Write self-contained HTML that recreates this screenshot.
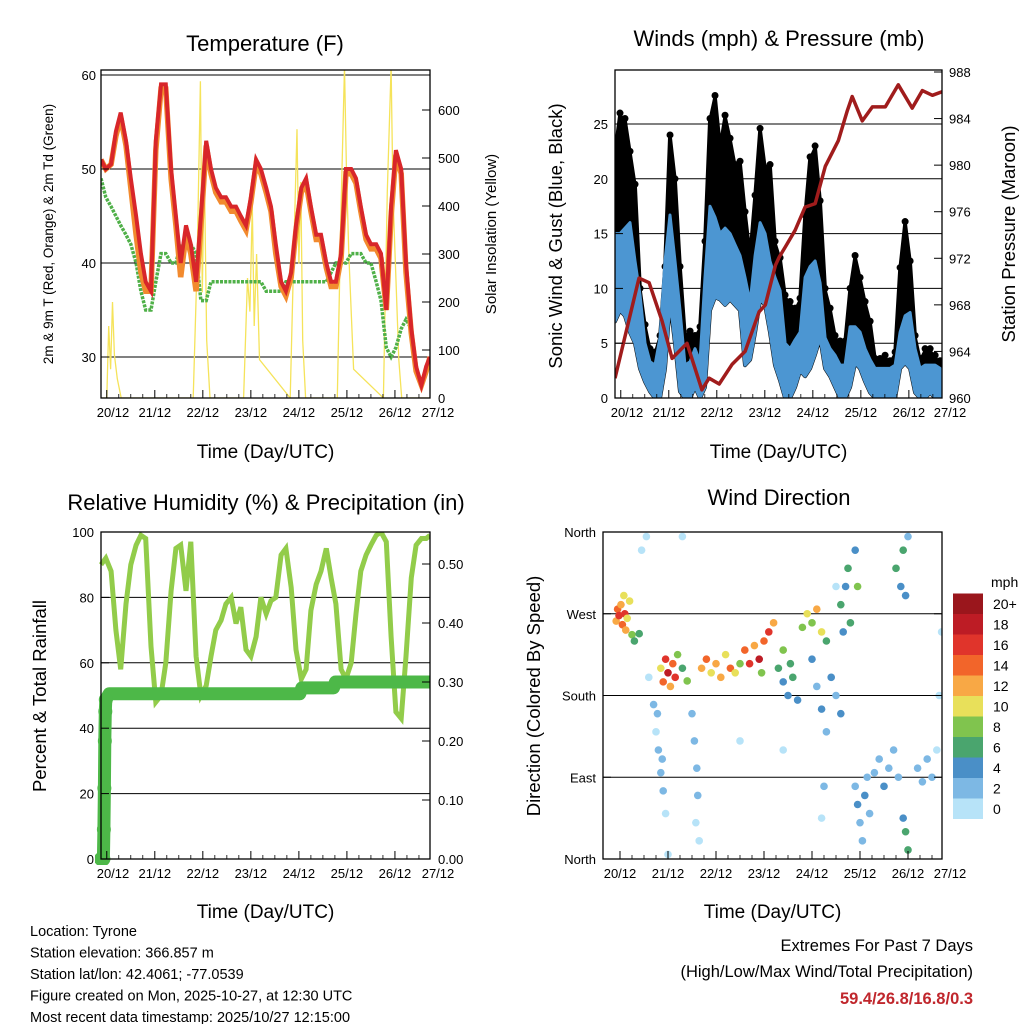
<!DOCTYPE html>
<html><head><meta charset="utf-8"><style>
body{margin:0;background:#fff;}
svg text{font-family:"Liberation Sans",sans-serif;fill:#000;}
</style></head><body>
<svg id="c" width="1024" height="1024" viewBox="0 0 1024 1024" xmlns="http://www.w3.org/2000/svg"></svg>
<script>
// ---------- data ----------
const tGrid1 = [19.88,19.98,20.09,20.19,20.29,20.40,20.50,20.61,20.71,20.81,20.92,21.02,21.13,21.23,21.34,21.44,21.54,21.65,21.75,21.86,21.96,22.07,22.17,22.27,22.38,22.48,22.59,22.69,22.79,22.90,23.00,23.11,23.21,23.32,23.42,23.52,23.63,23.73,23.84,23.94,24.05,24.15,24.25,24.36,24.46,24.57,24.67,24.77,24.88,24.98,25.09,25.19,25.29,25.40,25.50,25.61,25.71,25.82,25.92,26.02,26.13,26.23,26.34,26.44,26.55,26.65,26.73];
const temp2m = [51,50,50.5,54,56,53,49,45,41,38,37,53,59,59,50,45,40,44,42,38,45,53,50,48,47,47,46,46,45,44,47,51,50,48,46,42,38,37,39,44,48,49,46,43,43,40,38,38,41,50,50,49,46,43,42,42,41,35,46,52,50,40,33,29,27,29,30];
const temp9m = [51,50,50.5,53.5,55.5,52.5,48,43,39,37,37,52,58.5,58.5,49,44,38.5,43,41,37,44,52.5,49.5,47.5,46.5,46.5,45.5,45.5,44.5,43.5,46.5,50.5,49.5,47.5,45.5,41,37.5,36.5,38.5,43.5,47.5,48.5,45.5,42.5,42.5,39.5,37.5,37.5,40.5,49.5,49.5,48.5,45.5,42.5,41.5,41.5,40.5,35,45,51.5,49.5,39,32.5,28.5,27,28.5,30];
const dewpt = [49,47,46,45,44,43,42,40,37,35,35,38,41,41,40,40,42,42,42,41,36,36,38,38,38,38,38,38,38,38,38,38,38,37,37,37,37,38,38,38,38,38,38,38,38,38,39,40,40,40,41,41,41,40,40,38,36,31,30,31,33,34,33,29,27,29,30];
const solarT = [19.88,20.00,20.04,20.08,20.12,20.16,20.22,20.30,21.80,21.88,21.95,21.99,22.03,22.08,22.15,22.85,22.93,22.98,23.03,23.07,23.12,23.18,23.82,23.90,23.96,24.00,24.04,24.08,24.14,24.80,24.88,24.95,24.99,25.04,25.08,25.14,25.76,25.84,25.92,25.96,26.02,26.08,26.14,26.73];
const solarV = [0,0,150,60,200,90,40,0,0,280,660,220,480,120,0,0,250,180,400,150,300,80,0,330,560,280,450,120,0,0,400,690,480,300,200,60,0,430,690,420,250,80,0,0];
const tGrid2 = [19.880,19.984,20.088,20.193,20.297,20.401,20.505,20.609,20.713,20.818,20.922,21.026,21.130,21.234,21.338,21.443,21.547,21.651,21.755,21.859,21.963,22.068,22.172,22.276,22.380,22.484,22.588,22.693,22.797,22.901,23.005,23.109,23.213,23.318,23.422,23.526,23.630,23.734,23.838,23.943,24.047,24.151,24.255,24.359,24.463,24.568,24.672,24.776,24.880,24.984,25.088,25.193,25.297,25.401,25.505,25.609,25.713,25.818,25.922,26.026,26.130,26.234,26.338,26.443,26.547,26.651];
const gustHi = [22.5,26,25.5,22.5,19.5,10,6.7,4.5,4.2,5.7,12,24,20,12,5.7,6.1,5.7,6.5,14.3,25.5,27.6,23,25.8,23.7,21.3,21.6,17,13,18.5,24.6,21,21.3,14.3,12.8,9.4,8.8,8.2,9.1,16.7,22,23,18,10,8.2,5.7,5.2,5.2,10,13,11,8.8,7,3.6,3.6,3.9,3.4,4.2,11.9,16.1,12.5,5.7,3.6,4.5,4.5,3.9,3.4];
const windHi = [15,15,15.5,16,12.5,9.4,5,3.3,3,5.5,12.5,16.7,12.5,8,3,3.3,4.5,3.3,11,17.5,16.5,15,15.5,15,14,13,11,8.7,13,16,15,12.5,11,9.8,5,4.5,5.3,6,11,12,12.5,10.5,5.5,4.5,3.9,3,3,6.5,6.5,6,4.5,3.5,2.7,2.7,2.7,2.7,3,6,7.5,7.8,4.5,2.7,3,3,3,2.7];
const windLo = [7,8,7.5,6,5,2.7,1.5,0.6,0,0,2.7,8.8,5,0.6,0,0,1,0,1,8,9.2,9,8.5,9,8.5,8,3,3.5,6,9,8.5,6,3,1.6,0,0,1,2.5,2,2.7,4,5.5,2.7,2,1,0,0,1,3.2,2.7,1.5,0.5,0,0,0,0,0,2.7,3.2,2.7,0.5,0,0,0.5,0,0];
const presT = [19.88,20.38,20.59,20.86,21.07,21.38,21.69,21.84,22.05,22.32,22.59,22.88,23.01,23.22,23.30,23.43,23.63,23.84,24.05,24.26,24.53,24.72,24.82,25.03,25.24,25.51,25.78,26.07,26.28,26.49,26.69];
const pressure = [961.7,970.3,969.9,966.6,963.4,964.7,960.7,961.7,961.2,962.9,964.0,967.4,968.0,971.4,972.1,973.0,974.4,976.4,976.7,979.9,982.1,984.7,985.9,983.8,985.0,985.0,986.9,984.9,986.4,986.0,986.3];
const rh = [90,92,88,70,58,78,90,96,99,98,65,48,50,60,82,95,96,82,97,62,50,53,62,70,73,78,80,72,77,64,62,68,80,75,79,80,93,95,83,64,55,58,76,84,88,95,86,78,58,55,60,75,88,93,96,99,100,97,68,45,43,62,86,96,98,98,99];
const precipT = [19.88,19.93,19.94,19.95,19.96,19.97,19.98,20.05,24.02,24.06,24.72,24.76,26.73];
const precipV = [0,0,0.05,0.12,0.2,0.25,0.27,0.28,0.28,0.29,0.29,0.30,0.30];
const dirT = [19.92,19.95,19.98,20.02,20.05,20.08,20.1,20.12,20.15,20.2,20.25,20.3,20.4,20.85,20.9,20.95,21.0,21.05,21.1,21.15,21.2,21.3,21.4,20.7,20.75,20.8,20.85,20.9,20.95,20.78,20.88,20.6,20.55,21.3,21.5,21.55,21.6,21.62,21.58,21.65,21.7,21.8,21.9,22.0,22.1,22.2,22.3,22.4,22.5,22.6,22.7,22.8,22.9,23.0,23.1,23.2,22.95,23.3,23.4,23.5,23.6,23.7,23.4,23.55,23.8,23.9,24.0,24.1,24.2,24.3,24.0,24.1,24.2,24.3,24.4,24.5,24.6,24.2,24.25,24.6,24.7,24.75,24.8,24.9,24.95,24.65,24.9,24.95,25.0,25.05,25.1,25.15,25.2,25.3,25.4,25.5,25.6,25.7,25.8,25.75,25.85,25.9,25.95,26.0,25.95,26.0,25.9,26.2,26.3,26.4,26.5,26.6,26.65,26.7,20.45,21.0,22.5,23.4,24.5];
const dirV = [262,275,268,280,258,290,270,252,265,284,247,240,248,210,195,220,205,190,215,200,225,210,196,170,140,120,95,75,50,160,110,200,355,355,160,130,100,70,40,20,210,220,205,215,200,225,210,205,215,230,215,235,220,240,250,260,205,210,195,180,200,175,230,215,255,270,260,275,250,240,220,190,165,140,200,180,160,45,80,280,300,320,260,340,300,250,80,60,40,20,70,90,50,95,110,80,100,120,90,320,300,340,290,355,30,10,45,100,85,110,90,120,180,250,340,5,130,120,300];
const dirS = [12,14,16,12,14,10,16,12,10,11,8,6,6,10,14,16,18,12,14,17,8,6,8,2,1,2,3,2,1,3,2,1,1,1,2,3,2,3,1,1,12,14,10,13,12,10,14,11,9,14,16,12,18,14,16,12,8,6,4,5,7,4,8,6,9,10,8,12,10,7,4,3,5,3,4,2,4,1,2,6,5,7,6,4,8,5,3,4,3,2,4,3,2,3,2,4,3,2,3,6,4,7,5,2,6,7,5,2,3,2,3,1,1,1,1,1,1,1,1];
const speedColors = ["#b7e3f8","#7db8e4","#4a8fc7","#4aa56e","#80c44e","#e8e05a","#f8a845","#f2652a","#e0342b","#bd1c25","#9a161c"];
const speedLabels = ["0","2","4","6","8","10","12","14","16","18","20+"];
const dayTicks = [20,21,22,23,24,25,26,27];

// ---------- helpers ----------
const svg = document.getElementById('c');
const NS = 'http://www.w3.org/2000/svg';
function mk(tag, at, parent){ const e=document.createElementNS(NS,tag); for(const k in at) e.setAttribute(k,at[k]); (parent||svg).appendChild(e); return e; }
function txt(s, x, y, size, anchor, parent, extra){ const e=mk('text',Object.assign({x:x,y:y,'font-size':size,'text-anchor':anchor||'middle'},extra||{}),parent); e.textContent=s; return e; }
function lin(d0,d1,r0,r1){ return v => r0 + (v-d0)*(r1-r0)/(d1-d0); }
function pathFrom(xs, ys){ return xs.map((x,i)=>(i?'L':'M')+x.toFixed(1)+','+ys[i].toFixed(1)).join(''); }
function bandPath(xs, hi, lo){ return pathFrom(xs,hi)+pathFrom(xs.slice().reverse(),lo.slice().reverse()).replace('M','L')+'Z'; }

function frame(g, x0,y0,x1,y1){
  mk('rect',{x:x0,y:y0,width:x1-x0,height:y1-y0,fill:'none',stroke:'#000','stroke-width':1.3},g);
}
function timeAxis(g, xs, x0, x1, y1, labelY){
  dayTicks.forEach(d=>{
    const x = xs(d);
    if(x>=x0-1 && x<=x1+1){ mk('line',{x1:x,y1:y1,x2:x,y2:y1-8,stroke:'#000','stroke-width':1},g); }
    for(let h=1;h<4;h++){ const xm=xs(d+h/4); if(xm>x0&&xm<x1) mk('line',{x1:xm,y1:y1,x2:xm,y2:y1-4,stroke:'#000','stroke-width':0.8},g); }
    const lx = Math.min(Math.max(x, x0+12), x1+8);
    const t = txt((d<10?'0':'')+d+'/12', lx, y1+19, 13, 'middle', g);
    
    
  });
  const tt = txt('Time (Day/UTC)', (x0+x1)/2, labelY, 19, 'middle', g);
  
  
}

// ---------- Panel 1: Temperature ----------
(function(){
  const g = mk('g',{});  
  const x0=101,x1=430,y0=70,y1=398;
  const xs = lin(19.88,26.73,x0,x1);
  const ys = lin(30,60,357,75);
  const ysR = lin(0,600,398,110);
  [30,40,50,60].forEach(v=>mk('line',{x1:x0,x2:x1,y1:ys(v),y2:ys(v),stroke:'#000','stroke-width':1},g));
  const cp = mk('clipPath',{id:'cp1'},g); mk('rect',{x:x0,y:y0,width:x1-x0,height:y1-y0},cp);
  const d = mk('g',{'clip-path':'url(#cp1)'},g);
  const sol = mk('path',{d:pathFrom(solarT.map(xs),solarV.map(ysR)),fill:'none',stroke:'#f5e35a','stroke-width':1.3},d);
   
  const dp = mk('path',{d:pathFrom(tGrid1.map(xs),dewpt.map(ys)),fill:'none',stroke:'#4fb048','stroke-width':3.5,'stroke-dasharray':'3 1.2'},d);
   
  const t9 = mk('path',{d:pathFrom(tGrid1.map(xs),temp9m.map(ys)),fill:'none',stroke:'#f28a2e','stroke-width':5.5},d);
   
  const t2 = mk('path',{d:pathFrom(tGrid1.map(xs),temp2m.map(ys)),fill:'none',stroke:'#d8262a','stroke-width':4},d);
   
  frame(g,x0,y0,x1,y1);
  [30,40,50,60].forEach(v=>{ mk('line',{x1:x0,x2:x0+8,y1:ys(v),y2:ys(v),stroke:'#000'},g); txt(String(v),x0-5,ys(v)+5,13,'end',g); });
  [0,100,200,300,400,500,600].forEach(v=>{ mk('line',{x1:x1,x2:x1-8,y1:ysR(v),y2:ysR(v),stroke:'#000'},g); txt(String(v),x1+8,ysR(v)+5,13,'start',g); });
  timeAxis(g,xs,x0,x1,y1,458);
  const ti=txt('Temperature (F)',265,51,22,'middle',g);  
  const yl=txt('2m & 9m T (Red, Orange) & 2m Td (Green)',0,0,13.5,'middle',g,{transform:'translate(53,234) rotate(-90)'});  
  const yr=txt('Solar Insolation (Yellow)',0,0,15,'middle',g,{transform:'translate(496,234) rotate(-90)'});  
})();

// ---------- Panel 2: Winds ----------
(function(){
  const g = mk('g',{});  
  const x0=615,x1=942,y0=70,y1=398;
  const xs = lin(19.88,26.69,x0,x1);
  const ys = lin(0,25,398,124);
  const ysR = lin(960,988,398,72);
  [5,10,15,20,25].forEach(v=>mk('line',{x1:x0,x2:x1,y1:ys(v),y2:ys(v),stroke:'#000','stroke-width':1},g));
  const cp = mk('clipPath',{id:'cp2'},g); mk('rect',{x:x0,y:y0,width:x1-x0,height:y1-y0},cp);
  const d = mk('g',{'clip-path':'url(#cp2)'},g);
  const X = tGrid2.map(xs);
  const gp = mk('path',{d:bandPath(X,gustHi.map(v=>ys(v)+3),windLo.map(ys)),fill:'#000',stroke:'#000','stroke-width':4,'stroke-linejoin':'round'},d);
   
  tGrid2.forEach((t,i)=>{ const c=mk('circle',{cx:xs(t),cy:ys(gustHi[i]),r:3.5,fill:'#000'},d);   });
  const wp = mk('path',{d:bandPath(X,windHi.map(ys),windLo.map(ys)),fill:'#4c96d2',stroke:'#4c96d2','stroke-width':3,'stroke-linejoin':'round'},d);
   
  const pp = mk('path',{d:pathFrom(presT.map(xs),pressure.map(ysR)),fill:'none',stroke:'#a01c1c','stroke-width':3.5,'stroke-linejoin':'round'},d);
   
  frame(g,x0,y0,x1,y1);
  [0,5,10,15,20,25].forEach(v=>{ mk('line',{x1:x0,x2:x0+8,y1:ys(v),y2:ys(v),stroke:'#000'},g); txt(String(v),x0-7,ys(v)+5,13,'end',g); });
  [960,964,968,972,976,980,984,988].forEach(v=>{ mk('line',{x1:x1,x2:x1-8,y1:ysR(v),y2:ysR(v),stroke:'#000'},g); txt(String(v),x1+7,ysR(v)+5,13,'start',g); });
  timeAxis(g,xs,x0,x1,y1,458);
  const ti=txt('Winds (mph) & Pressure (mb)',779,46,22,'middle',g);  
  const yl=txt('Sonic Wind & Gust (Blue, Black)',0,0,18.5,'middle',g,{transform:'translate(562,236) rotate(-90)'});  
  const yr=txt('Station Pressure (Maroon)',0,0,18.5,'middle',g,{transform:'translate(1015,234) rotate(-90)'});  
})();

// ---------- Panel 3: RH & Precip ----------
(function(){
  const g = mk('g',{});  
  const x0=101,x1=430,y0=532,y1=859;
  const xs = lin(19.88,26.73,x0,x1);
  const ys = lin(0,100,859,532);
  const ysR = lin(0,0.5,859,564);
  [20,40,60,80].forEach(v=>mk('line',{x1:x0,x2:x1,y1:ys(v),y2:ys(v),stroke:'#000','stroke-width':1},g));
  const cp = mk('clipPath',{id:'cp3'},g); mk('rect',{x:x0-6,y:y0,width:x1-x0+6,height:y1-y0+6},cp);
  const d = mk('g',{'clip-path':'url(#cp3)'},g);
  const r = mk('path',{d:pathFrom(tGrid1.map(xs),rh.map(ys)),fill:'none',stroke:'#92cc4a','stroke-width':5},d);
   
  const p = mk('path',{d:pathFrom(precipT.map(xs),precipV.map(ysR)),fill:'none',stroke:'#4db848','stroke-width':13,'stroke-linejoin':'round'},d);
   
  precipT.slice(0,7).forEach((t,i)=>{ const c=mk('circle',{cx:xs(t),cy:ysR(precipV[i]),r:7,fill:'#4db848'},d);   });
  frame(g,x0,y0,x1,y1);
  [0,20,40,60,80,100].forEach(v=>{ mk('line',{x1:x0,x2:x0+8,y1:ys(v),y2:ys(v),stroke:'#000'},g); txt(String(v),x0-7,ys(v)+5,13,'end',g); });
  [0,0.1,0.2,0.3,0.4,0.5].forEach(v=>{ mk('line',{x1:x1,x2:x1-8,y1:ysR(v),y2:ysR(v),stroke:'#000'},g); txt(v.toFixed(2),x1+8,ysR(v)+5,13,'start',g); });
  timeAxis(g,xs,x0,x1,y1,918);
  const ti=txt('Relative Humidity (%) & Precipitation (in)',266,510,22,'middle',g);  
  const yl=txt('Percent & Total Rainfall',0,0,18.5,'middle',g,{transform:'translate(46,696) rotate(-90)'});  
})();

// ---------- Panel 4: Wind Direction ----------
(function(){
  const g = mk('g',{});  
  const x0=603,x1=942,y0=532,y1=859;
  const xs = lin(20,27,620,956);
  const ys = lin(0,360,859,532);
  [90,180,270].forEach(v=>mk('line',{x1:x0,x2:x1,y1:ys(v),y2:ys(v),stroke:'#000','stroke-width':1},g));
  const cp = mk('clipPath',{id:'cp4'},g); mk('rect',{x:x0,y:y0,width:x1-x0,height:y1-y0},cp);
  const d = mk('g',{'clip-path':'url(#cp4)'},g);
  dirT.forEach((t,i)=>{
    const idx = Math.min(10, Math.max(0, Math.floor(dirS[i]/2)));
    const c = mk('circle',{cx:xs(t),cy:ys(dirV[i]),r:3.8,fill:speedColors[idx]},d);
    
    
  });
  frame(g,x0,y0,x1,y1);
  const names=['North','East','South','West','North'];
  [0,90,180,270,360].forEach((v,i)=>{ mk('line',{x1:x0,x2:x0+8,y1:ys(v),y2:ys(v),stroke:'#000'},g); mk('line',{x1:x1,x2:x1-8,y1:ys(v),y2:ys(v),stroke:'#000'},g); txt(names[i],x0-7,ys(v)+5,13,'end',g); });
  timeAxis(g,lin(20,27,620,956),x0,x1,y1,918);
  const ti=txt('Wind Direction',779,505,22,'middle',g);  
  const yl=txt('Direction (Colored By Speed)',0,0,18.5,'middle',g,{transform:'translate(540,696) rotate(-90)'});  
  const cb = mk('g',{},g);  
  const bh = 20.5;
  speedColors.forEach((c,i)=>{
    const y = 819 - (i+1)*bh;
    const rct = mk('rect',{x:953,y:y,width:30,height:bh,fill:c},cb);
    
    
    txt(speedLabels[i],993,y+bh/2+5,14,'start',cb);
  });
  txt('mph',991,587,14,'start',cb);
})();

// ---------- footer ----------
const info = ['Location: Tyrone','Station elevation: 366.857 m','Station lat/lon: 42.4061; -77.0539','Figure created on Mon, 2025-10-27, at 12:30 UTC','Most recent data timestamp: 2025/10/27 12:15:00'];
const fi = mk('g',{});  
info.forEach((s,i)=>txt(s,30,936+i*21.5,14.5,'start',fi));
const ex = mk('g',{});  
txt('Extremes For Past 7 Days',973,951,16.5,'end',ex);
txt('(High/Low/Max Wind/Total Precipitation)',973,977,16.5,'end',ex);
const ev = txt('59.4/26.8/16.8/0.3',973,1004,16.5,'end',ex,{'font-weight':'bold'});
ev.setAttribute('fill','#c0272d'); ev.style.fill='#c0272d';
</script>
</body></html>
